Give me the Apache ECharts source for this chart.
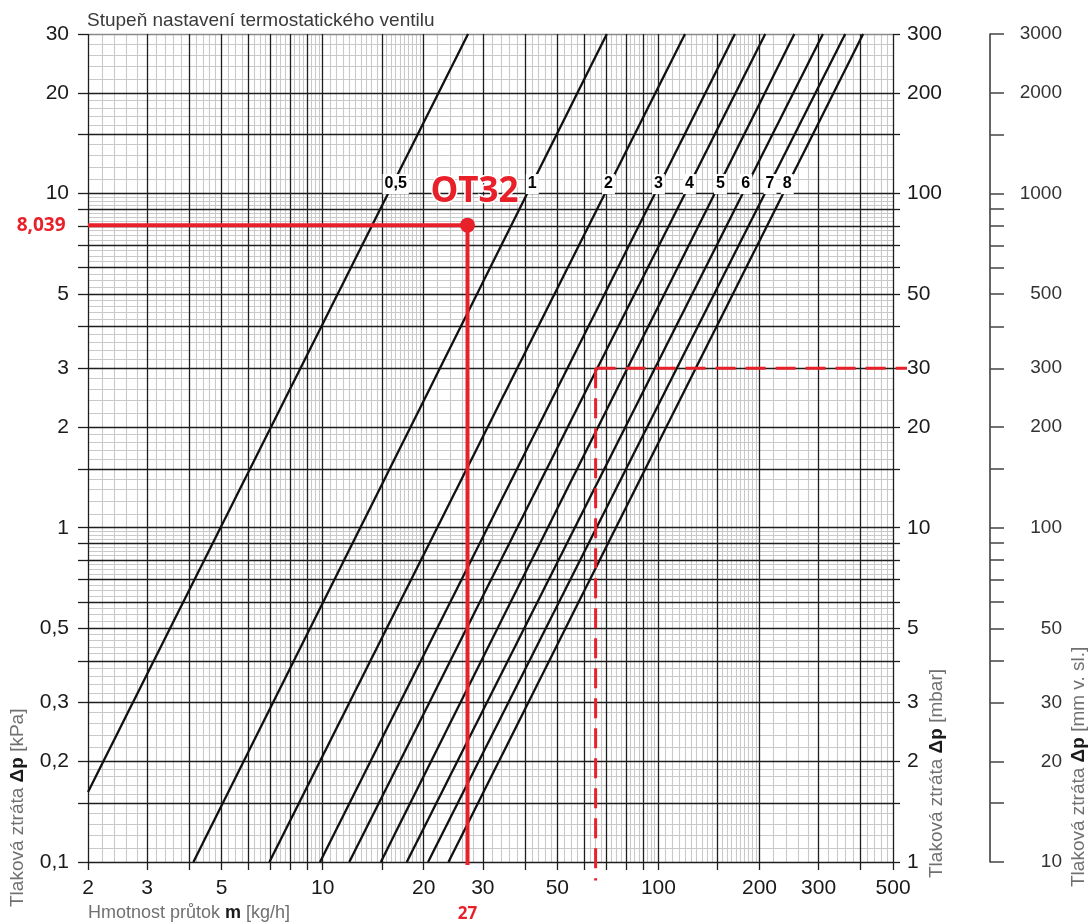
<!DOCTYPE html>
<html>
<head>
<meta charset="utf-8">
<title>Stupeň nastavení termostatického ventilu</title>
<script src="https://cdn.jsdelivr.net/npm/echarts@6.0.0/dist/echarts.min.js"></script>
<style>
  html, body { margin: 0; padding: 0; background: #ffffff; }
  #chart { width: 1091px; height: 924px; }
</style>
</head>
<body>
<div id="chart"></div>
<script>
// 数据 - 各档位的直线端点（流量 kg/h, 压损 kPa）
const settings = ['0,5', '1', '2', '3', '4', '5', '6', '7', '8']
const startFlow = [2, 4.12, 6.94, 9.82, 12.0, 14.9, 17.8, 20.6, 23.7]
const startDp = [0.162, 0.1, 0.1, 0.1, 0.1, 0.1, 0.1, 0.1, 0.1]
const endFlow = [27.1, 70.2, 120, 169, 208, 254, 309, 360, 407]
const endDp = [30, 30, 30, 30, 30, 30, 30, 30, 30]
// 档位标签所在位置
const labelFlow = [16.5, 42.1, 71.0, 100, 123.7, 153, 182, 215, 242]
const labelDp = 10.67

// 工作点 OT32
const opFlow = 27
const opDp = 8.039
// 虚线参考点
const refFlow = 65
const refDp = 3
const refDpFrom = 0.088
const refFlowTo = 550

// 刻度
const xMajor = [2, 3, 4, 5, 6, 7, 8, 9, 10, 15, 20, 30, 40, 50, 60, 70, 80, 90, 100, 150, 200, 300, 400, 500]
const xLabels = [2, 3, 5, 10, 20, 30, 50, 100, 200, 300, 500]
const yMajor = [0.1, 0.15, 0.2, 0.3, 0.4, 0.5, 0.6, 0.7, 0.8, 0.9, 1, 1.5, 2, 3, 4, 5, 6, 7, 8, 9, 10, 15, 20, 30]
const yLabels = [0.1, 0.2, 0.3, 0.5, 1, 2, 3, 5, 10, 20, 30]
const mbarMajor = [1, 1.5, 2, 3, 4, 5, 6, 7, 8, 9, 10, 15, 20, 30, 40, 50, 60, 70, 80, 90, 100, 150, 200, 300]
const mbarLabels = [1, 2, 3, 5, 10, 20, 30, 50, 100, 200, 300]
const mmMajor = [10, 15, 20, 30, 40, 50, 60, 70, 80, 90, 100, 150, 200, 300, 400, 500, 600, 700, 800, 900, 1000, 1500, 2000, 3000]
const mmLabels = [10, 20, 30, 50, 100, 200, 300, 500, 1000, 2000, 3000]

// 细网格线
const steps = (from, to, step) => {
  const out = []
  for (let v = from + step; v < to - 1e-9; v += step) out.push(+v.toFixed(4))
  return out
}
const notMajor = (major) => (v) => !major.some(m => Math.abs(m - v) < 1e-6)
const xMinor = [
  ...steps(2, 5, 0.2), ...steps(5, 10, 0.25), ...steps(10, 20, 0.5), ...steps(20, 50, 2),
  ...steps(50, 100, 2.5), ...steps(100, 200, 5), ...steps(200, 500, 20)
].filter(notMajor(xMajor))
const yMinor = [
  ...steps(0.1, 0.2, 0.01), ...steps(0.2, 0.5, 0.02), ...steps(0.5, 1, 0.025), ...steps(1, 2, 0.1),
  ...steps(2, 5, 0.2), ...steps(5, 10, 0.25), ...steps(10, 20, 1), ...steps(20, 30, 2)
].filter(notMajor(yMajor))
const xMin = xMajor[0]
const xMax = xMajor[xMajor.length - 1]
const yTop = yMajor[yMajor.length - 1]

const RED = '#e8202a'
const FONT = '"Liberation Sans", Arial, sans-serif'
const comma = (v) => String(v).replace('.', ',')

const myChart = echarts.init(document.getElementById('chart'), null, { renderer: 'canvas' })

// 网格线 series（markLine 默认 z 为 5，这里压到最底层）
// 横线只画在 2..500 之间，坐标轴右端留出虚线越界的空间
const gridLines = (xs, ys, color, width, z) => ({
  type: 'line',
  data: [],
  silent: true,
  z: z,
  markLine: {
    silent: true,
    z: z,
    symbol: ['none', 'none'],
    label: { show: false },
    animation: false,
    lineStyle: { color: color, width: width, type: 'solid' },
    data: xs.map(v => ({ xAxis: v }))
      .concat(ys.map(v => [{ coord: [xMin, v] }, { coord: [xMax, v] }]))
  }
})

const series = [
  gridLines(xMinor, yMinor, '#c9c9c9', 1.1, 1),
  gridLines([], [yTop], '#8a8a8a', 1.3, 1),
  gridLines(xMajor, yMajor.filter(v => v !== yTop), '#1e1e1e', 1.3, 2)
]

// 各档位直线
settings.forEach((s, i) => {
  series.push({
    name: s,
    type: 'line',
    z: 3,
    symbol: 'none',
    lineStyle: { color: '#111111', width: 2.3 },
    data: [[startFlow[i], startDp[i]], [endFlow[i], endDp[i]]]
  })
})

// 档位标签
series.push({
  type: 'scatter',
  z: 4,
  symbolSize: 1,
  itemStyle: { color: 'rgba(0,0,0,0)', opacity: 1 },
  label: {
    show: true,
    position: 'inside',
    formatter: (p) => settings[p.dataIndex],
    fontFamily: FONT,
    fontWeight: 'bold',
    fontSize: 16,
    color: '#000000',
    backgroundColor: '#ffffff',
    padding: [2, 2]
  },
  data: labelFlow.map(f => [f, labelDp])
})

// 虚线（竖线 + 横线）
const dashed = (data) => ({
  type: 'line',
  z: 6,
  symbol: 'none',
  clip: false,
  lineStyle: { color: RED, width: 3, type: [20, 10] },
  data: data
})
series.push(dashed([[refFlow, refDp], [refFlow, refDpFrom]]))
series.push(dashed([[refFlow, refDp], [refFlowTo, refDp]]))

// 红色实线
series.push({
  type: 'line',
  z: 7,
  symbol: 'none',
  clip: false,
  lineStyle: { color: RED, width: 4 },
  data: [[xMin, opDp], [opFlow, opDp], [opFlow, 0.098]]
})

// 工作点 + OT32
series.push({
  type: 'scatter',
  z: 8,
  symbolSize: 15,
  itemStyle: { color: RED, opacity: 1 },
  label: {
    show: true,
    formatter: 'OT32',
    position: 'inside',
    offset: [7, -33],
    fontFamily: '"Open Sans", sans-serif',
    fontWeight: 'bold',
    fontSize: 35,
    color: RED,
    textBorderColor: '#ffffff',
    textBorderWidth: 3
  },
  data: [[opFlow, opDp]]
})

// 8,039 和 27 标签
series.push({
  type: 'scatter',
  z: 8,
  symbolSize: 1,
  itemStyle: { color: 'rgba(0,0,0,0)', opacity: 1 },
  label: {
    show: true,
    fontFamily: '"Open Sans", sans-serif',
    fontWeight: 'bold',
    color: RED
  },
  data: [
    { value: [xMin, opDp], label: { position: 'left', distance: 22, formatter: comma(opDp), fontSize: 19 } },
    { value: [opFlow, 0.1], label: { position: 'bottom', distance: 43, formatter: String(opFlow), fontSize: 17 } }
  ]
})

const tickLabel = {
  fontFamily: FONT,
  fontSize: 21,
  color: '#1a1a1a'
}

const richTitle = {
  n: { fontFamily: FONT, fontSize: 19, fill: '#707070', color: '#707070' },
  b: { fontFamily: FONT, fontSize: 19, fontWeight: 'bold', fill: '#1a1a1a', color: '#1a1a1a' }
}

const axisTitle = (unit) => ({
  text: '{n|Tlaková ztráta }{b|Δp}{n| [' + unit + ']}',
  rich: richTitle,
  align: 'left',
  verticalAlign: 'middle'
})

const options = {
  animation: false,
  backgroundColor: '#ffffff',
  textStyle: { fontFamily: FONT },
  grid: [
    // 右端到 550（虚线终点），500 处仍在 x=893
    { left: 88, right: 184, top: 34, bottom: 62, outerBoundsMode: 'none', containLabel: false },
    { left: 976, width: 14, top: 34, bottom: 62, outerBoundsMode: 'none', containLabel: false }
  ],
  xAxis: [
    {
      type: 'log',
      logBase: 10,
      gridIndex: 0,
      min: xMin,
      max: refFlowTo,
      axisLine: { show: false },
      axisTick: { show: true, customValues: xMajor, length: 8, lineStyle: { color: '#1e1e1e', width: 1.3 } },
      axisLabel: { customValues: xLabels, margin: 16, ...tickLabel, formatter: (v) => comma(v) },
      splitLine: { show: false },
      minorTick: { show: false },
      minorSplitLine: { show: false }
    },
    { type: 'value', gridIndex: 1, show: false }
  ],
  yAxis: [
    {
      type: 'log',
      logBase: 10,
      gridIndex: 0,
      position: 'left',
      min: 0.1,
      max: 30,
      axisLine: { show: false, onZero: false },
      axisTick: { show: true, customValues: yMajor, length: 10, lineStyle: { color: '#1e1e1e', width: 1.3 } },
      axisLabel: { customValues: yLabels, margin: 19, ...tickLabel, formatter: (v) => comma(v) },
      splitLine: { show: false }
    },
    {
      type: 'log',
      logBase: 10,
      gridIndex: 0,
      position: 'right',
      offset: -14,
      min: 1,
      max: 300,
      axisLine: { show: false, onZero: false },
      axisTick: { show: true, customValues: mbarMajor, length: 7, lineStyle: { color: '#1e1e1e', width: 1.3 } },
      axisLabel: { customValues: mbarLabels, margin: 14, ...tickLabel, formatter: (v) => String(v) },
      splitLine: { show: false }
    },
    {
      type: 'log',
      logBase: 10,
      gridIndex: 1,
      position: 'right',
      min: 10,
      max: 3000,
      axisLine: { show: true, onZero: false, lineStyle: { color: '#333333', width: 1.5 } },
      axisTick: { show: true, customValues: mmMajor, length: 14, lineStyle: { color: '#444444', width: 1.5 } },
      axisLabel: {
        customValues: mmLabels, margin: 72, align: 'right',
        fontFamily: FONT, fontSize: 19, color: '#333333', formatter: (v) => String(v)
      },
      splitLine: { show: false }
    }
  ],
  graphic: [
    {
      type: 'text',
      x: 87,
      y: 21,
      style: {
        text: 'Stupeň nastavení termostatického ventilu',
        font: '19px ' + FONT,
        fill: '#3a3a3a',
        verticalAlign: 'middle'
      }
    },
    {
      type: 'text',
      x: 88,
      y: 913,
      style: {
        text: '{n|Hmotnost průtok }{b|m}{n| [kg/h]}',
        rich: {
          n: { fontFamily: FONT, fontSize: 18, fill: '#707070', color: '#707070' },
          b: { fontFamily: FONT, fontSize: 18, fontWeight: 'bold', fill: '#1a1a1a', color: '#1a1a1a' }
        },
        verticalAlign: 'middle'
      }
    },
    { type: 'text', x: 18, y: 907, rotation: Math.PI / 2, style: axisTitle('kPa') },
    { type: 'text', x: 937, y: 878, rotation: Math.PI / 2, style: axisTitle('mbar') },
    { type: 'text', x: 1079, y: 887, rotation: Math.PI / 2, style: axisTitle('mm v. sl.') }
  ],
  series: series
}

myChart.setOption(options)
</script>
</body>
</html>
